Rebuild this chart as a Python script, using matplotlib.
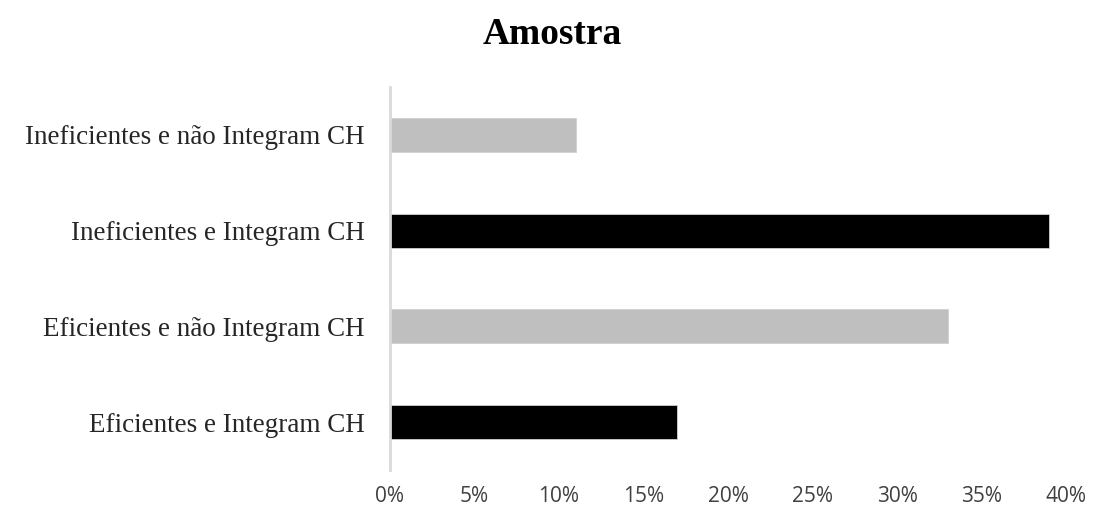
import matplotlib
matplotlib.use("Agg")
import matplotlib.pyplot as plt
from matplotlib.ticker import FuncFormatter

categories = ["Eficientes e Integram CH", "Eficientes e não Integram CH",
              "Ineficientes e Integram CH", "Ineficientes e não Integram CH"]
values = [17, 33, 39, 11]
colors = ["#000000", "#BFBFBF", "#000000", "#BFBFBF"]
xticks = [0, 5, 10, 15, 20, 25, 30, 35, 40]

fig = plt.figure(figsize=(10.93, 5.07), dpi=100)
ax = fig.add_axes([390/1093, 1-470/507, (1066-390)/1093, (470-87)/507])

ax.barh(range(len(categories)), values, height=0.355, color=colors,
        edgecolor="#D0D0D0", linewidth=0.6)
ax.set_xlim(0, 40)
ax.set_ylim(-0.5, 3.5)
ax.set_xticks(xticks)
ax.xaxis.set_major_formatter(FuncFormatter(lambda v, p: f"{int(v)}%"))
ax.set_yticks(range(len(categories)))
ax.set_yticklabels(categories, family="Liberation Serif", fontsize=19.5, color="#262626")
for lab in ax.get_xticklabels():
    lab.set_family("Open Sans")
    lab.set_fontsize(15)
    lab.set_color("#404040")
ax.tick_params(axis="both", length=0)
ax.tick_params(axis="y", pad=18)
ax.tick_params(axis="x", pad=11.5)
for s in ["top", "right", "bottom"]:
    ax.spines[s].set_visible(False)
ax.spines["left"].set_color("#D9D9D9")
ax.spines["left"].set_linewidth(2)

fig.text(552/1093, 1-34/507, "Amostra", family="Liberation Serif", fontweight="bold",
         fontsize=27, ha="center", va="center")

fig.savefig("out.png", dpi=100)
